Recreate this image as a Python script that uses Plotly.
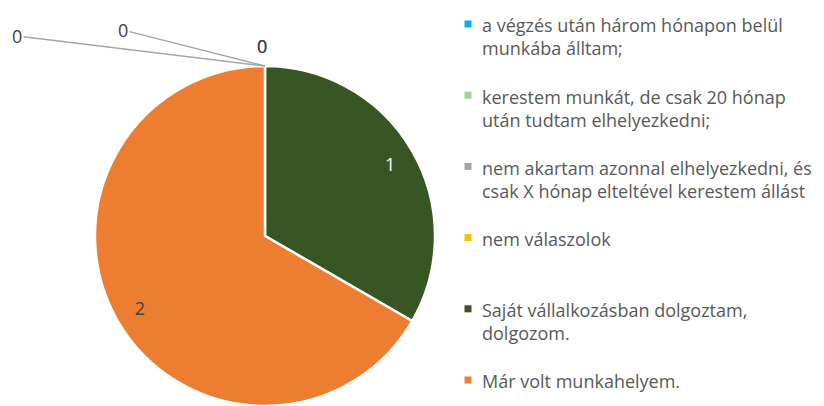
import plotly.graph_objects as go

# Answer categories (legend order) and counts
labels = [
    "a végzés után három hónapon belül<br>munkába álltam;",
    "kerestem munkát, de csak 20 hónap<br>után tudtam elhelyezkedni;",
    "nem akartam azonnal elhelyezkedni, és<br>csak X hónap elteltével kerestem állást",
    "nem válaszolok",
    "Saját vállalkozásban dolgoztam,<br>dolgozom.",
    "Már volt munkahelyem.",
]
values = [0, 0, 0, 0, 1, 2]
colors = ["#00B0F0", "#A9D18E", "#A5A5A5", "#FFC000", "#375623", "#ED7D31"]

# the page body keeps its default 8px margin, so the figure is 8px smaller
# and everything is placed 8px up/left of where it sits in the target image
OFF = 8
W, H = 824 - OFF, 406 - OFF


def px(x):
    return (x - OFF) / W


def py(y):
    return 1 - (y - OFF) / H


# pie: centre (265, 236), radius 170 in screen pixels
PIE_X = [px(265 - 170), px(265 + 170)]
PIE_Y = [0.0, py(66)]

fig = go.Figure()

fig.add_trace(go.Pie(
    labels=labels,
    values=values,
    sort=False,
    direction="clockwise",
    rotation=0,
    marker=dict(colors=colors, line=dict(color="white", width=2.5)),
    textinfo="none",
    domain=dict(x=PIE_X, y=PIE_Y),
    hoverinfo="label+value",
))

# transparent ring on top, only to put the non-zero value labels out near the rim
fig.add_trace(go.Pie(
    labels=labels,
    values=values,
    sort=False,
    direction="clockwise",
    rotation=0,
    hole=0.7,
    marker=dict(colors=["rgba(0,0,0,0)"] * len(values), line=dict(width=0)),
    text=[str(v) if v else "" for v in values],
    textinfo="text",
    textposition="inside",
    insidetextorientation="horizontal",
    textfont=dict(size=18, color=["#404040"] * 4 + ["white", "#404040"]),
    domain=dict(x=PIE_X, y=PIE_Y),
    hoverinfo="skip",
    showlegend=False,
))

# zero-valued slices: labels pulled out to the upper left with leader lines
top_x = (PIE_X[0] + PIE_X[1]) / 2
top_y = PIE_Y[1]
zero_offsets = [(-248, -30), (-142, -36), None, None]
for i, v in enumerate(values[:4]):
    off = zero_offsets[i]
    if off is None:
        fig.add_annotation(x=top_x, y=top_y, xref="paper", yref="paper",
                           xanchor="center", yanchor="middle",
                           text=str(v), showarrow=False, yshift=20, xshift=-3,
                           font=dict(size=18, color="#404040"))
    else:
        fig.add_annotation(x=top_x, y=top_y, xref="paper", yref="paper",
                           text=str(v), showarrow=True, ax=off[0], ay=off[1],
                           arrowhead=0, arrowwidth=1.5, arrowcolor="#A6A6A6",
                           standoff=0, font=dict(size=18, color="#404040"))

# legend drawn by hand so entries get Excel-like even spacing
LEG_TEXT_X = 480
LEG_SYM_X = 468
LEG_Y0 = 24
LEG_STEP = 71.2
FS = 18
for i, (lab, col) in enumerate(zip(labels, colors)):
    yc = LEG_Y0 + i * LEG_STEP
    fig.add_annotation(
        x=px(LEG_TEXT_X), y=py(yc - (FS * 0.65 + 1)), xref="paper", yref="paper",
        xanchor="left", yanchor="top", align="left",
        text=lab, showarrow=False,
        font=dict(size=FS, color="#595959"),
    )
    fig.add_shape(
        type="rect", xref="paper", yref="paper",
        x0=px(LEG_SYM_X - 3.5), x1=px(LEG_SYM_X + 3.5),
        y0=py(yc + 3.5), y1=py(yc - 3.5),
        fillcolor=col, line=dict(width=0),
    )

fig.update_layout(
    width=W,
    height=H,
    margin=dict(l=0, r=0, t=0, b=0, autoexpand=False),
    paper_bgcolor="white",
    font=dict(family="Open Sans", size=16, color="#595959"),
    showlegend=False,
)

fig.write_html("out.html")
